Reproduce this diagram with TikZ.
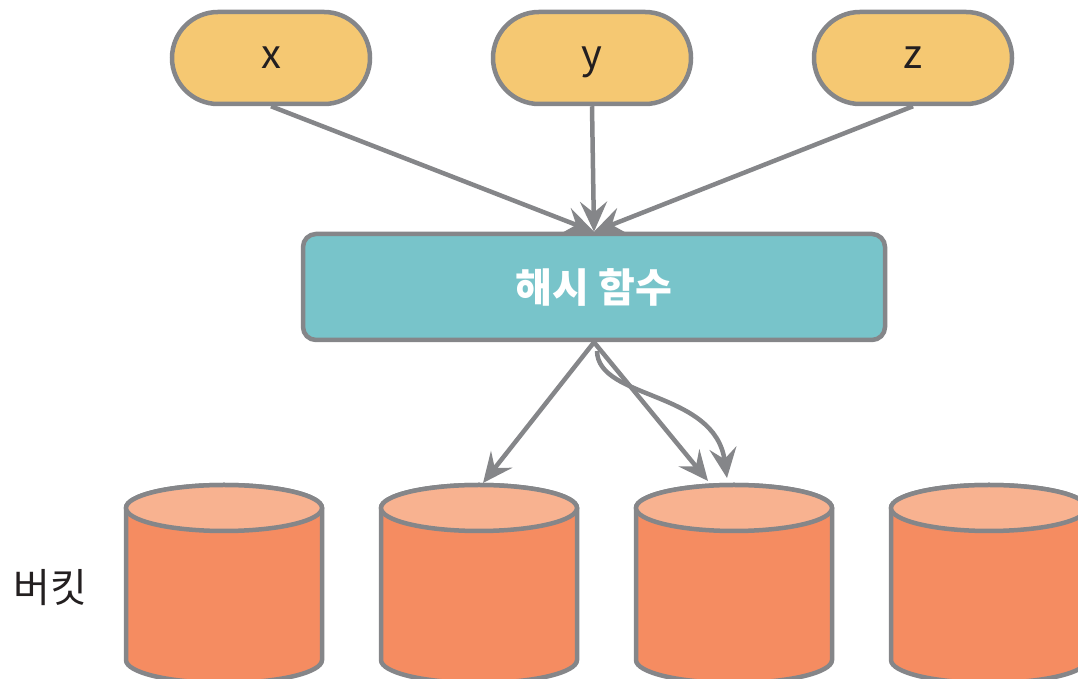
\documentclass[tikz,border=0pt]{standalone}
\usepackage{fontspec}
\setmainfont{Noto Sans CJK KR}
\usetikzlibrary{arrows.meta}
\definecolor{pillfill}{HTML}{F5C872}
\definecolor{teal}{HTML}{78C4CA}
\definecolor{edge}{HTML}{858689}
\definecolor{cylbody}{HTML}{F58C61}
\definecolor{cyltop}{HTML}{F8B290}
\definecolor{txt}{HTML}{231F20}
\tikzset{
  pill/.style={draw=edge, line width=4.5pt, fill=pillfill, rounded corners=46pt,
    minimum width=198pt, minimum height=92pt, inner sep=0pt, font=\fontsize{40}{46}\selectfont,
    text=txt, text height=22pt, text depth=0pt},
  hashbox/.style={draw=edge, line width=4.5pt, fill=teal, rounded corners=13pt,
    minimum width=582pt, minimum height=106pt, inner sep=0pt, text=white, font=\bfseries\fontsize{40}{46}\selectfont},
  conn/.style={draw=edge, line width=4.5pt, -{Stealth[length=30pt,width=27pt,inset=11pt]}},
  cylline/.style={draw=edge, line width=4.5pt},
}
\begin{document}
\begin{tikzpicture}[x=1pt,y=1pt]
\useasboundingbox (0,0) rectangle (1078,679);
% cylinders
\foreach \cx in {224,479,734,989} {
  \path[cylline, fill=cylbody] (\cx-98,171) -- (\cx-98,19)
     arc[start angle=180, end angle=360, x radius=98pt, y radius=23pt]
     -- (\cx+98,171) arc[start angle=0, end angle=180, x radius=98pt, y radius=23pt] -- cycle;
  \path[cylline, fill=cyltop] (\cx,171) ellipse[x radius=98pt, y radius=23pt];
}
\coordinate (c2) at (483,196);
\coordinate (c3a) at (708,198);
\coordinate (c3b) at (727,201);
\coordinate (cs) at (597,328);
\node[pill] (x) at (271,621) {x};
\node[pill] (y) at (592,621) {y};
\node[pill] (z) at (913,621) {z};
\node[hashbox] (hash) at (594,392) {해시 함수};
\node[font=\fontsize{40}{46}\selectfont, text=txt] (label) at (50,91) {버킷};
\draw[conn] (x.south) -- (hash.north);
\draw[conn] (y.south) -- (hash.north);
\draw[conn] (z.south) -- (hash.north);
\draw[conn] (hash.south) -- (c2);
\draw[conn] (hash.south) -- (c3a);
\draw[conn] (cs) .. controls (598,279) and (715,289) .. (c3b);
\end{tikzpicture}
\end{document}
